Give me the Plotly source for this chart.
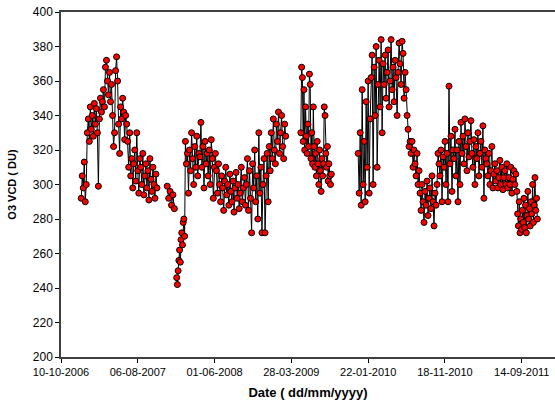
import pandas as pd
import plotly.graph_objects as go

# ---- data ----
# each group: start date, end date, O3 VCD values (DU) spread over that span
grpA_dates = ["2006-12-28", "2007-10-20"]
grpA_vals = [292, 305, 298, 313, 290, 300,
             330, 338, 325, 345, 332, 340, 328, 347,
             335, 344, 330, 299, 338, 350, 342, 348,
             355, 345, 368, 372, 360, 352, 365, 348, 358,
             340, 322, 330, 366, 374, 360, 335, 318,
             345, 338, 350, 342, 326, 340, 335,
             325, 310, 330, 305, 315, 298, 312, 320, 302, 330, 308, 295, 315,
             310, 300, 318, 294, 305, 312, 298, 308, 291, 315, 303, 296, 310, 300, 292, 306, 298]

grpB_dates = ["2007-11-29", "2007-12-27"]
grpB_vals = [299, 292, 296, 288, 294, 286]

grpC_dates = ["2008-01-05", "2008-02-05"]
grpC_vals = [246, 242, 250, 256, 262, 255, 268, 272, 265, 278, 280, 270]

grpD_dates = ["2008-02-08", "2009-03-06"]
grpD_vals = [325, 312, 318, 295, 320, 308, 330, 315, 300, 322, 310, 328, 305, 318,
             316, 336, 310, 322, 298, 325, 312, 318, 305, 320, 300, 326, 315, 292, 310, 318,
             308, 295, 312, 300, 290, 305, 298, 285, 302, 310, 294, 300, 288, 306, 296,
             290, 302, 284, 298, 307, 292, 300, 286, 295, 310, 290, 298, 304, 288,
             300, 315, 285, 308, 292, 272, 312, 298, 320, 290, 305, 280, 330, 295, 310,
             272, 300, 315, 272, 305, 318, 290,
             322, 308, 330, 315, 338, 320, 312, 335, 325, 342, 318, 330, 340, 322, 315, 335, 328]

grpE_dates = ["2009-05-04", "2009-08-31"]
grpE_vals = [330, 368, 362, 325, 355, 320, 345, 328, 318, 335, 322, 364, 358, 315, 330,
             312, 345, 322, 310, 318, 305, 325, 312, 300, 320, 308, 296, 315, 305, 312,
             345, 340, 318, 310, 322, 302, 312, 305, 300, 306]

grpF_dates = ["2009-12-14", "2011-08-26"]
grpF_vals = [318, 295, 330, 288, 355, 300, 325, 290, 348, 310, 360, 295, 338,
             362, 375, 300, 368, 340, 380, 310, 358, 372, 345, 384, 330,
             370, 358, 375, 350, 365, 378, 345, 360, 384, 355, 368, 348, 372, 362, 340,
             365, 382, 370, 358, 383, 376, 350, 365,
             355, 340, 332, 322, 325,
             318, 325, 310, 320, 312, 305, 318, 300, 308,
             295, 285, 300, 290, 278, 296, 288, 302, 282, 292, 298, 286, 305, 290, 276, 295, 288, 300,
             318, 312, 305, 320, 290, 316, 310,
             325, 300, 318, 290, 357, 312, 328, 296, 320,
             315, 332, 305, 320, 290, 325, 300, 336, 318, 328, 312, 338, 322, 308, 330, 316,
             325, 337, 318, 310, 326, 300, 322, 315, 330, 305, 318, 325, 310, 334, 292, 320, 315,
             312, 305, 318, 300, 308, 322, 298, 306, 312, 302, 308, 298, 304, 314, 300, 310,
             297, 304, 308, 300, 312, 298, 304, 300, 310, 295, 303, 308, 300, 306, 296]

grpG_dates = ["2011-08-29", "2011-11-14"]
grpG_vals = [283, 276, 290, 272, 280, 274, 285, 278, 292, 275, 288, 272, 282, 296, 280,
             286, 276, 290, 283, 300, 278, 288, 304, 285, 292, 280]

tick_labels = ["10-10-2006", "06-08-2007", "01-06-2008", "28-03-2009",
               "22-01-2010", "18-11-2010", "14-09-2011"]
y_ticks = [200, 220, 240, 260, 280, 300, 320, 340, 360, 380, 400]

# groups joined by a line (inner lists) ; gaps between outer entries
segments = [
    [(grpA_dates, grpA_vals)],
    [(grpB_dates, grpB_vals)],
    [(grpC_dates, grpC_vals), (grpD_dates, grpD_vals)],
    [(grpE_dates, grpE_vals)],
    [(grpF_dates, grpF_vals), (grpG_dates, grpG_vals)],
]

xs, ys = [], []
for seg in segments:
    for (d0d1, vals) in seg:
        ds = pd.date_range(d0d1[0], d0d1[1], periods=len(vals))
        xs.extend(list(ds))
        ys.extend(vals)
    xs.append(None)
    ys.append(None)

tick_vals = [pd.to_datetime(t, format="%d-%m-%Y") for t in tick_labels]

fig = go.Figure()
fig.add_trace(go.Scatter(
    x=xs, y=ys, mode="lines+markers", connectgaps=False,
    line=dict(color="black", width=1),
    marker=dict(color="#FF0000", size=6, line=dict(color="black", width=1)),
    showlegend=False,
    cliponaxis=False,
))

font = "Liberation Sans, Arial, sans-serif"
fig.update_layout(
    width=555, height=405,
    margin=dict(l=61, r=0, t=12, b=48, autoexpand=False),
    paper_bgcolor="white", plot_bgcolor="white",
    font=dict(family=font, size=11, color="black"),
)
fig.update_xaxes(
    range=[pd.Timestamp("2006-10-10"), pd.Timestamp("2012-01-22")],
    tickvals=tick_vals, ticktext=tick_labels,
    ticks="outside", ticklen=4, tickcolor="black",
    showline=True, linecolor="#404040", linewidth=1.5, mirror=True,
    showgrid=False, zeroline=False, automargin=False,
    tickfont=dict(size=11),
    title=dict(text="<b>Date ( dd/mm/yyyy)</b>", font=dict(size=13), standoff=11),
)
fig.update_yaxes(
    range=[200, 400], tickvals=y_ticks,
    ticks="outside", ticklen=4, tickcolor="black",
    showline=True, linecolor="#404040", linewidth=1.5,
    showgrid=False, zeroline=False, automargin=False,
    tickfont=dict(size=12),
    title=dict(text="<b>O3 VCD ( DU)</b>", font=dict(size=11), standoff=14),
)

fig.write_html(
    "out.html",
    config={"displayModeBar": False},
    post_script="document.body.style.margin='0';document.body.style.overflow='hidden';",
)
